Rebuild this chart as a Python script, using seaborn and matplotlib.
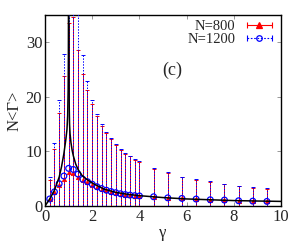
import numpy as np
import pandas as pd
import matplotlib
matplotlib.use("Agg")
import matplotlib.pyplot as plt
import seaborn as sns
from matplotlib.lines import Line2D
from matplotlib.legend_handler import HandlerLine2D, HandlerTuple

# valori
gamma = [0.2, 0.4, 0.6, 0.8, 1.0, 1.2, 1.4, 1.6, 1.8, 2.0,
         2.2, 2.4, 2.6, 2.8, 3.0, 3.2, 3.4, 3.6, 3.8, 4.0,
         4.6, 5.2, 5.8, 6.4, 7.0, 7.6, 8.2, 8.8, 9.4]

media_800 = [1.3, 2.6, 3.8, 4.9, 6.2, 6.1, 5.4, 4.75, 4.4, 3.9,
             3.5, 3.2, 2.9, 2.6, 2.4, 2.25, 2.1, 2.0, 1.9, 1.85,
             1.7, 1.5, 1.4, 1.28, 1.15, 1.1, 0.97, 0.9, 0.85]
top_800 = [4.75, 10.4, 17.1, 23.8, 33.5, 34.6, 28.5, 24.1, 21.3, 18.6,
           16.5, 14.75, 13.3, 12.2, 11.15, 10.3, 9.6, 9.1, 8.5, 8.0,
           6.8, 6.0, 5.25, 4.85, 4.4, 4.0, 3.65, 3.35, 3.15]

media_1200 = [1.3, 2.6, 4.1, 5.5, 6.9, 6.7, 5.85, 4.9, 4.45, 4.0,
              3.55, 3.2, 2.9, 2.65, 2.45, 2.25, 2.1, 2.0, 1.9, 1.85,
              1.7, 1.5, 1.4, 1.28, 1.15, 1.1, 0.97, 0.9, 0.85]
top_1200 = [5.4, 11.6, 19.4, 27.9, 42.0, 45.0, 38.0, 27.7, 22.9, 19.5,
            16.9, 15.1, 13.65, 12.4, 11.3, 10.5, 9.8, 9.25, 8.65, 8.2,
            6.95, 6.15, 5.35, 4.95, 4.5, 4.05, 3.75, 3.45, 3.25]

# curva teorica (due rami attorno a gamma = 1)
teo_sx_g = [0.0, 0.2, 0.4, 0.6, 0.7, 0.8, 0.88, 0.93, 0.96, 0.98, 0.99, 0.995]
teo_sx_v = [0.0, 1.3, 2.9, 5.3, 7.2, 9.6, 12.1, 14.0, 16.5, 21.0, 27.0, 37.0]
teo_dx_g = [1.005, 1.01, 1.02, 1.04, 1.06, 1.1, 1.15, 1.2, 1.3, 1.4, 1.55, 1.7,
            2.0, 2.5, 3.0, 3.5, 4.0, 5.0, 6.0, 7.0, 8.0, 9.0, 10.0]
teo_dx_v = [37.0, 27.0, 19.5, 15.0, 13.3, 11.6, 10.2, 9.2, 7.7, 6.7, 5.7, 5.1,
            4.2, 3.1, 2.5, 2.15, 1.9, 1.55, 1.3, 1.15, 1.0, 0.92, 0.85]

df = pd.DataFrame({"gamma": gamma,
                   "m800": media_800, "e800": np.array(top_800) - np.array(media_800),
                   "m1200": media_1200, "e1200": np.array(top_1200) - np.array(media_1200)})

sns.set_style("ticks")
plt.rcParams["font.family"] = ["Liberation Serif", "DejaVu Serif"]

fig = plt.figure(figsize=(3.0, 2.45), dpi=100)
ax = fig.add_axes([0.15, 0.159, 0.787, 0.78])

rosso = "#ff0000"
blu = "#0000ff"

# barre d'errore
ax.errorbar(df["gamma"], df["m800"], yerr=df["e800"], fmt="none",
            ecolor=rosso, elinewidth=0.7, capsize=1.3, capthick=0.7, zorder=2)
eb = ax.errorbar(df["gamma"], df["m1200"], yerr=df["e1200"], fmt="none",
                 ecolor=blu, elinewidth=0.7, capsize=1.3, capthick=0.7, zorder=3)
for c in eb[2]:
    c.set_linestyle((0, (1.5, 1.5)))

sns.scatterplot(data=df, x="gamma", y="m800", marker="^", s=10, color=rosso,
                edgecolor=rosso, linewidth=0.5, ax=ax, zorder=4)
sns.scatterplot(data=df, x="gamma", y="m1200", marker="o", s=17, facecolor="none",
                edgecolor=blu, linewidth=0.9, ax=ax, zorder=5)

sns.lineplot(x=teo_sx_g, y=teo_sx_v, color="black", lw=1.1, ax=ax, zorder=6)
sns.lineplot(x=teo_dx_g, y=teo_dx_v, color="black", lw=1.1, ax=ax, zorder=6)

ax.set_xlim(0, 10)
ax.set_ylim(0, 35)
ax.set_xticks([0, 2, 4, 6, 8, 10])
ax.set_yticks([0, 10, 20, 30])
ax.tick_params(direction="in", length=3, width=0.6, labelsize=12, top=True, right=True,
               color="#888888", pad=2)
for s in ax.spines.values():
    s.set_linewidth(1.0)
    s.set_color("black")

ax.set_xlabel("γ", fontsize=12, labelpad=0)
ax.set_ylabel("N<Γ>", fontsize=12, labelpad=2)
ax.text(5.4, 24.8, "(c)", fontsize=13, ha="center", va="center")

# legenda in stile gnuplot
def voce(col, ls, mk, mfc):
    riga = Line2D([], [], color=col, lw=0.8, ls=ls, marker="|", markersize=4,
                  markeredgewidth=0.8)
    punto = Line2D([], [], color=col, ls="none", marker=mk, markersize=4,
                   markerfacecolor=mfc, markeredgecolor=col, markeredgewidth=0.9)
    return riga, punto

r1, p1 = voce(rosso, "-", "^", rosso)
r2, p2 = voce(blu, (0, (1.5, 1.5)), "o", "none")
ax.legend([(r1, p1), (r2, p2)], ["N=800", "N=1200"],
          handler_map={tuple: HandlerTuple(ndivide=1, pad=0),
                       r1: HandlerLine2D(numpoints=2), r2: HandlerLine2D(numpoints=2),
                       p1: HandlerLine2D(numpoints=1), p2: HandlerLine2D(numpoints=1)},
          loc="upper right", frameon=False, markerfirst=False, fontsize=10.5,
          handlelength=2.3, handletextpad=0.5, labelspacing=0.0,
          borderpad=0.0, borderaxespad=0.35)

fig.savefig("out.png", dpi=100)
